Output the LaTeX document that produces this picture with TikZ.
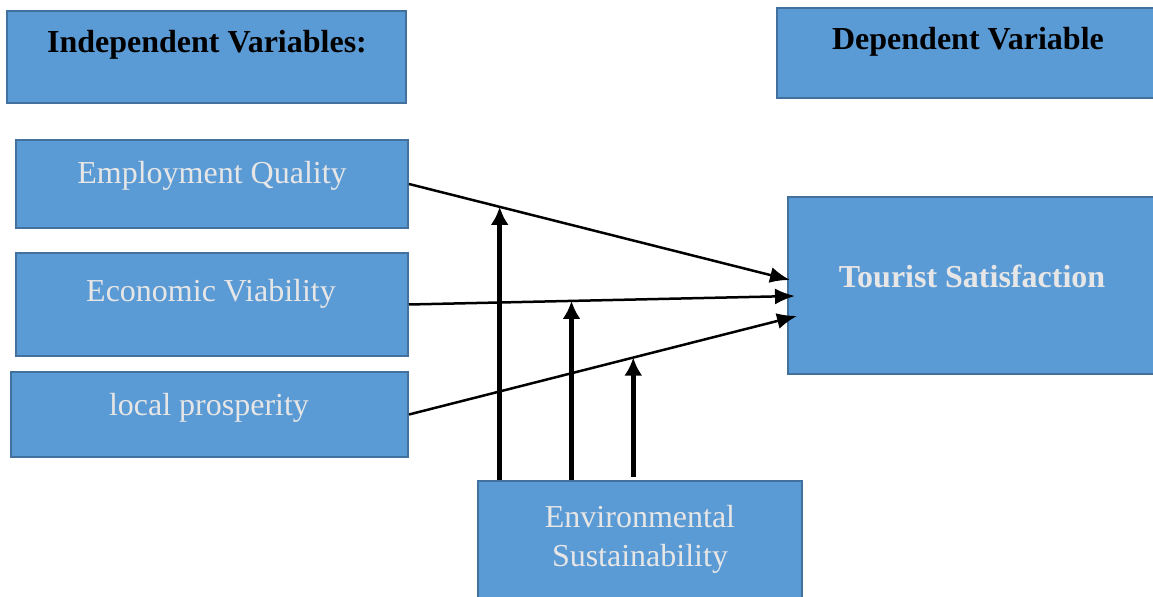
\documentclass[tikz,border=0pt]{standalone}
\usepackage{fontspec}
\setmainfont{Liberation Serif}
\usetikzlibrary{positioning,arrows.meta,calc,fit}
\definecolor{boxblue}{HTML}{5B9BD5}
\definecolor{boxline}{HTML}{41719C}
\definecolor{boxtext}{HTML}{E7E6E6}
\tikzset{
  varbox/.style={draw=boxline, line width=1pt, fill=boxblue, inner sep=0pt},
  headtext/.style={font=\fontsize{16}{19}\selectfont\bfseries, text=black},
  vartext/.style={font=\fontsize{16}{19.5}\selectfont, text=boxtext, align=center},
  flow/.style={line width=1.25pt, -{Latex[length=10pt,width=8pt]}},
  modarrow/.style={line width=2.5pt, -{Latex[length=9pt,width=9pt]}}
}
\begin{document}
\begin{tikzpicture}[x=0.5pt,y=-0.5pt]
			\useasboundingbox (0,0) rectangle (1153,597);
			\node[varbox, fit={(7,11) (406,103)}] (indep) {};
			\node[varbox, fit={(777,8) (1158,98)}] (dep) {};
			\node[varbox, fit={(16,140) (408,228)}] (emp) {};
			\node[varbox, fit={(16,253) (408,356)}] (eco) {};
			\node[varbox, fit={(11,372) (408,457)}] (loc) {};
			\node[varbox, fit={(788,197) (1158,374)}] (tour) {};
			\node[varbox, fit={(478,481) (802,602)}] (env) {};
			\node[headtext] (indeptxt) at (207,45) {Independent Variables:};
			\node[headtext] (deptxt) at (968,42) {Dependent Variable};
			\node[vartext] (emptxt) at (212,176) {Employment Quality};
			\node[vartext] (ecotxt) at (211,294) {Economic Viability};
			\node[vartext] (loctxt) at (209,408) {local prosperity};
			\node[headtext, text=boxtext] (tourtxt) at (972,276) {Tourist Satisfaction};
			\node[vartext] (envtxt) at (640,539) {Environmental\\Sustainability};
			\coordinate (t1) at (790,280);
			\coordinate (t2) at (795,296);
			\coordinate (t3) at (797,316);
			\draw[flow] (emp.east) -- coordinate[pos=0.238] (m1) (t1);
			\draw[flow] (eco.east) -- coordinate[pos=0.421] (m2) (t2);
			\draw[flow] (loc.east) -- coordinate[pos=0.578] (m3) (t3);
			\draw[modarrow] (env.north -| m1) -- (m1);
			\draw[modarrow] (env.north -| m2) -- (m2);
			\draw[modarrow] ([yshift=1.5pt]env.north -| m3) -- (m3);
\end{tikzpicture}
\end{document}
